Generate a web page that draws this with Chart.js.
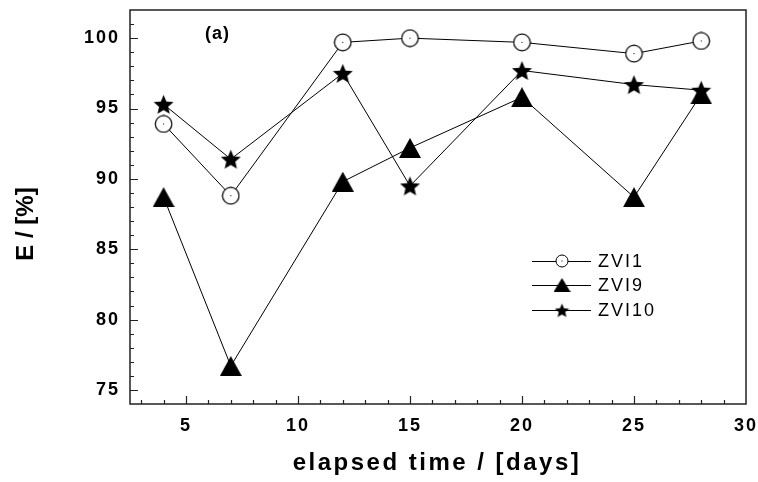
<!DOCTYPE html>
<html>
<head>
<meta charset="utf-8">
<script src="https://cdn.jsdelivr.net/npm/chart.js@4.4.1/dist/chart.umd.min.js"></script>
<style>
  html, body { margin: 0; padding: 0; background: #fff; }
</style>
</head>
<body>
<canvas id="chart" width="758" height="482"></canvas>
<script>
// data
var Days = [4, 7, 12, 15, 20, 25, 28]
var ZVI1 = [93.9, 88.8, 99.7, 100.0, 99.7, 98.9, 99.8]
var ZVI9 = [88.7, 76.7, 89.8, 92.2, 95.8, 88.7, 96.0]
var ZVI10 = [95.3, 91.4, 97.5, 89.5, 97.7, 96.7, 96.3]
var SeriesNames = ['ZVI1', 'ZVI9', 'ZVI10']
var XTicks = [5, 10, 15, 20, 25, 30]
var YTicks = [75, 80, 85, 90, 95, 100]

var FONT = "'Liberation Sans', Arial, sans-serif"

function makeCircle(d, lw) {
  var c = document.createElement('canvas')
  c.width = d; c.height = d
  var g = c.getContext('2d')
  g.beginPath()
  g.arc(d / 2, d / 2, d / 2 - lw, 0, Math.PI * 2)
  g.fillStyle = '#fff'
  g.fill()
  g.lineWidth = lw
  g.strokeStyle = '#000'
  g.stroke()
  g.fillStyle = '#000'
  g.fillRect(d / 2 - 0.5, d / 2 - 0.5, 1, 1)
  return c
}

function makeTriangle(w, h) {
  var c = document.createElement('canvas')
  c.width = w; c.height = h
  var g = c.getContext('2d')
  g.beginPath()
  g.moveTo(w / 2, 0)
  g.lineTo(w, h)
  g.lineTo(0, h)
  g.closePath()
  g.fillStyle = '#000'
  g.fill()
  return c
}

function makeStar(d) {
  var c = document.createElement('canvas')
  c.width = d; c.height = d
  var g = c.getContext('2d')
  var R = d / 2, r = R * 0.45
  g.beginPath()
  for (let i = 0; i < 10; i++) {
    var a = -Math.PI / 2 + i * Math.PI / 5
    var rr = i % 2 === 0 ? R : r
    var px = d / 2 + rr * Math.cos(a), py = d / 2 + 1 + rr * Math.sin(a)
    if (i === 0) g.moveTo(px, py); else g.lineTo(px, py)
  }
  g.closePath()
  g.fillStyle = '#000'
  g.fill()
  return c
}

var markers = [makeCircle(19, 1.2), makeTriangle(22, 20), makeStar(21)]
var legendMarkers = [makeCircle(14, 1), makeTriangle(17, 14), makeStar(15)]

function toPoints(vals) {
  return vals.map(function (v, i) { return { x: Days[i], y: v } })
}

var frameAndExtras = {
  id: 'frameAndExtras',
  beforeDraw: function (chart) {
    // spaced-out tick labels like the original
    chart.ctx.letterSpacing = '2px'
  },
  afterDraw: function (chart) {
    var ctx = chart.ctx
    var a = chart.chartArea
    var xs = chart.scales.x, ys = chart.scales.y
    ctx.save()
    ctx.letterSpacing = '0px'
    // frame
    ctx.strokeStyle = '#222'
    ctx.lineWidth = 1.5
    ctx.strokeRect(a.left, a.top, a.right - a.left, a.bottom - a.top)
    // inward ticks
    ctx.lineWidth = 1.2
    ctx.beginPath()
    for (let v = 3; v <= 29; v++) {
      var px = Math.round(xs.getPixelForValue(v)) + 0.5
      var len = XTicks.indexOf(v) >= 0 ? 8 : 4
      ctx.moveTo(px, a.bottom)
      ctx.lineTo(px, a.bottom - len)
    }
    for (let v = 75; v <= 101; v++) {
      var py = Math.round(ys.getPixelForValue(v)) + 0.5
      var len2 = YTicks.indexOf(v) >= 0 ? 8 : 4
      ctx.moveTo(a.left, py)
      ctx.lineTo(a.left + len2, py)
    }
    ctx.stroke()

    // panel label
    ctx.fillStyle = '#000'
    ctx.font = 'bold 18px ' + FONT
    ctx.letterSpacing = '1px'
    ctx.textAlign = 'left'
    ctx.textBaseline = 'middle'
    ctx.fillText('(a)', 205, 34)

    // legend
    var rowY = [261, 285, 310]
    ctx.font = '18px ' + FONT
    ctx.letterSpacing = '2px'
    chart.data.datasets.forEach(function (ds, i) {
      var y = rowY[i]
      ctx.strokeStyle = '#000'
      ctx.lineWidth = 1
      ctx.beginPath()
      ctx.moveTo(532, y + 0.5)
      ctx.lineTo(591, y + 0.5)
      ctx.stroke()
      var m = legendMarkers[i]
      ctx.drawImage(m, 562 - m.width / 2, y - m.height / 2)
      ctx.fillText(ds.label, 598, y + 1)
    })

    // axis titles
    ctx.textBaseline = 'alphabetic'
    ctx.textAlign = 'center'
    ctx.font = 'bold 24px ' + FONT
    ctx.letterSpacing = '2.5px'
    ctx.fillText('elapsed time / [days]', 437, 470)
    ctx.font = 'bold 24px ' + FONT
    ctx.letterSpacing = '0px'
    ctx.translate(33, 224)
    ctx.rotate(-Math.PI / 2)
    ctx.fillText('E / [%]', 0, 0)
    ctx.restore()
  }
}

new Chart(document.getElementById('chart').getContext('2d'), {
  type: 'line',
  data: {
    datasets: [ZVI1, ZVI9, ZVI10].map(function (vals, i) {
      return {
        label: SeriesNames[i],
        data: toPoints(vals),
        borderColor: '#000',
        borderWidth: 1,
        pointStyle: markers[i],
        pointRadius: 9,
        tension: 0
      }
    })
  },
  options: {
    responsive: false,
    animation: false,
    layout: { padding: { top: 10, right: 12, left: 0, bottom: 0 } },
    plugins: { legend: { display: false }, tooltip: { enabled: false } },
    scales: {
      x: {
        type: 'linear',
        min: 2.5,
        max: 30,
        grid: { display: false, drawTicks: false },
        border: { display: false },
        ticks: { color: '#000', padding: 11, font: { family: FONT, size: 18, weight: 'bold' } },
        afterBuildTicks: function (s) { s.ticks = XTicks.map(function (v) { return { value: v } }) },
        afterFit: function (s) { s.height = 78; s.paddingLeft = 0; s.paddingRight = 0 }
      },
      y: {
        type: 'linear',
        min: 74,
        max: 102,
        grid: { display: false, drawTicks: false },
        border: { display: false },
        ticks: { color: '#000', padding: 10, font: { family: FONT, size: 18, weight: 'bold' } },
        afterBuildTicks: function (s) { s.ticks = YTicks.map(function (v) { return { value: v } }) },
        afterFit: function (s) { s.width = 130; s.paddingTop = 0; s.paddingBottom = 0 }
      }
    }
  },
  plugins: [frameAndExtras]
})
</script>
</body>
</html>
